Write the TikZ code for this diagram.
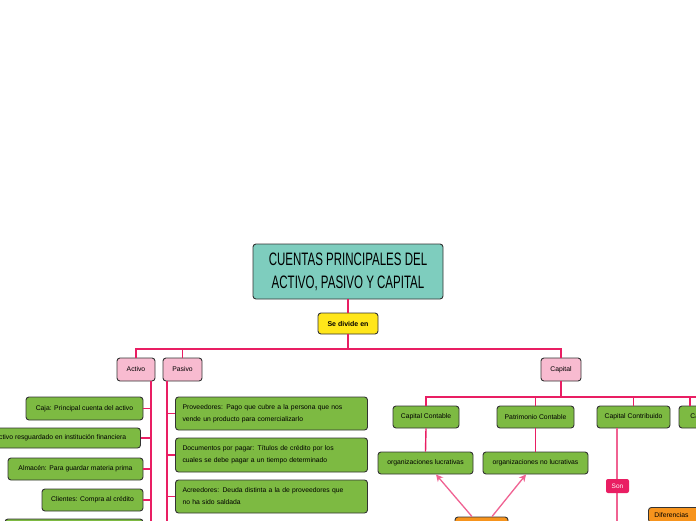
\documentclass[tikz,border=0pt]{standalone}
\usepackage{fontspec}
\setmainfont{Liberation Sans}
\newfontfamily\titlefont[FakeStretch=0.64]{Liberation Sans}
\usetikzlibrary{arrows.meta,calc}
\definecolor{teal1}{HTML}{7ECDBE}
\definecolor{yel}{HTML}{FFE61A}
\definecolor{pk}{HTML}{F8BBD0}
\definecolor{gr}{HTML}{7DBA42}
\definecolor{org}{HTML}{F7941D}
\definecolor{lk}{HTML}{E91E63}
\definecolor{lk2}{HTML}{F06292}
\definecolor{bordc}{HTML}{333333}
\begin{document}
\begin{tikzpicture}[x=1pt,y=-1pt,
  box/.style={draw=bordc, line width=0.9pt, rounded corners=3pt, inner sep=0pt,
    font=\fontsize{6.8}{8}\selectfont, text=black},
  gbox/.style={box, fill=gr},
  pbox/.style={box, fill=pk},
  obox/.style={box, fill=org},
  link/.style={draw=lk, line width=1.8pt},
  link2/.style={draw=lk, line width=1.4pt},
  arr/.style={draw=lk2, line width=1.3pt, -{Stealth[length=7pt,width=7pt]}},
  para/.style={gbox, align=left, text width=178pt, inner xsep=7pt, font=\fontsize{6.8}{12}\selectfont}
]
\useasboundingbox[fill=white] (0,0) rectangle (696,520);

% title
\node[box, fill=teal1, minimum width=190pt, minimum height=55pt, align=center,
  font=\titlefont\fontsize{18}{23}\selectfont] (title) at (348,271.5)
  {CUENTAS PRINCIPALES DEL\\ACTIVO, PASIVO Y CAPITAL};
\node[box, fill=yel, minimum width=60pt, minimum height=21pt, font=\bfseries\fontsize{7}{8}\selectfont] (div) at (348,323.5) {Se divide en};

% level 1
\node[pbox, minimum width=38pt, minimum height=23pt] (activo) at (136,369.5) {Activo};
\node[pbox, minimum width=39pt, minimum height=23pt] (pasivo) at (182.5,369.5) {Pasivo};
\node[pbox, minimum width=40pt, minimum height=23pt] (capital) at (561,369.5) {Capital};

\coordinate (bar) at (348,349);
\draw[link] (title.south) -- (div.north);
\draw[link] (div.south) -- (bar);
\draw[link] (activo.north) |- (bar) -| (capital.north);
\draw[link] (pasivo.north) -- (pasivo.north |- bar);

% activo children
\coordinate (aTop) at (151,381);
\coordinate (aBot) at (151,521);
\draw[link] (aTop) -- (aBot);
\node[gbox, minimum width=117pt, minimum height=23pt] (caja) at (84.5,408.5) {Caja: Principal cuenta del activo};
\node[gbox, minimum width=193pt, minimum height=20pt] (bancos) at (44,438) {Bancos: Efectivo resguardado en institución financiera};
\node[gbox, minimum width=135pt, minimum height=22pt] (almacen) at (75.5,469) {Almacén: Para guardar materia prima};
\node[gbox, minimum width=101pt, minimum height=22pt] (clientes) at (92.5,500) {Clientes: Compra al crédito};
\node[gbox, minimum width=138pt, minimum height=22pt] (next) at (74,530) {};
\foreach \n in {caja,bancos,almacen,clientes}
  \draw[link] (\n.east) -- (\n.east -| aTop);

% pasivo children
\coordinate (pTop) at (167,381);
\coordinate (pBot) at (167,521);
\draw[link] (pTop) -- (pBot);
\node[para, minimum height=33pt] (prov) at (271.5,413.5) {Proveedores: Pago que cubre a la persona que nos\\vende un producto para comercializarlo};
\node[para, minimum height=34pt] (docs) at (271.5,455) {Documentos por pagar: Títulos de crédito por los\\cuales se debe pagar a un tiempo determinado};
\node[para, minimum height=33pt] (acre) at (271.5,496.5) {Acreedores: Deuda distinta a la de proveedores que\\no ha sido saldada};
\foreach \n in {prov,docs,acre}
  \draw[link] (\n.west) -- (\n.west -| pTop);

% capital children
\coordinate (cbar) at (561,397);
\node[gbox, minimum width=66pt, minimum height=22pt] (ccont) at (426,417) {Capital Contable};
\node[gbox, minimum width=77pt, minimum height=22pt] (patr) at (535.5,417) {Patrimonio Contable};
\node[gbox, minimum width=73pt, minimum height=22pt] (contrib) at (633.5,417) {Capital Contribuido};
\node[gbox, minimum width=70pt, minimum height=22pt] (ganado) at (714,417) {Capital Ganado};
\draw[link] (capital.south) -- (cbar);
\draw[link] (ccont.north) |- (cbar) -- (cbar -| 700,0);
\draw[link] (patr.north) -- (patr.north |- cbar);
\draw[link] (contrib.north) -- (contrib.north |- cbar);
\draw[link] ([xshift=-24pt]ganado.north) -- ([xshift=-24pt]ganado.north |- cbar);

\node[gbox, minimum width=95pt, minimum height=22pt] (lucr) at (425.5,463) {organizaciones lucrativas};
\node[gbox, minimum width=105pt, minimum height=22pt] (nolucr) at (535.5,463) {organizaciones no lucrativas};
\draw[link2] (ccont.south) -- (lucr.north);
\draw[link2] (patr.south) -- (nolucr.north);

\node[obox, minimum width=53pt, minimum height=22pt] (org1) at (481.5,528) {};
\draw[arr] ([xshift=-9.5pt]org1.north) -- ([xshift=10.5pt]lucr.south);
\draw[arr] ([xshift=10.5pt]org1.north) -- ([xshift=-9.5pt]nolucr.south);

% contribuido
\coordinate (cbTop) at (617,428);
\coordinate (cbBot) at (617,521);
\draw[draw=lk2, line width=1.3pt] (cbTop) -- (cbBot);
\node[box, draw=none, fill=lk, text=white, minimum width=23pt, minimum height=14pt,
  rounded corners=2pt, font=\fontsize{6.5}{8}\selectfont] (son) at (617.5,486) {Son};
\node[obox, anchor=north west, align=left, text width=62pt, inner xsep=6pt, inner ysep=5pt] (dif) at (648,507) {Diferencias};
\end{tikzpicture}
\end{document}
